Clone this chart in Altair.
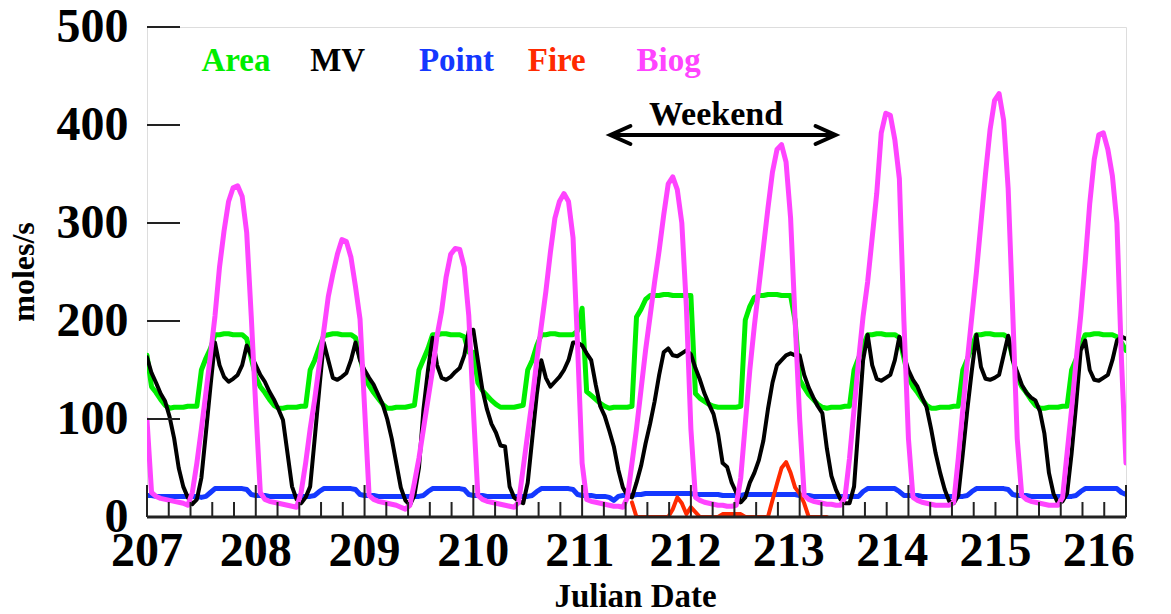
import altair as alt
import pandas as pd

FIRST_DAY = 207
LAST_DAY = 216

# Hourly emissions (moles/s), one row per Julian day (hours 0-23), last entry is day 216.0
area = [
    165, 133, 127, 120, 114, 111, 112, 112, 112, 113, 113, 113, 150, 162, 172, 186, 186, 187, 187, 186, 186, 186, 182, 162,
    143, 133, 127, 120, 114, 111, 111, 112, 112, 112, 113, 113, 150, 160, 173, 185, 186, 187, 187, 186, 186, 186, 183, 163,
    143, 134, 127, 121, 115, 111, 111, 112, 112, 112, 113, 114, 150, 161, 172, 186, 186, 187, 187, 186, 186, 186, 184, 168,
    168, 137, 129, 124, 119, 115, 112, 112, 112, 112, 113, 114, 150, 160, 175, 186, 186, 187, 187, 186, 186, 186, 186, 190,
    213, 128, 124, 120, 116, 113, 111, 112, 112, 112, 112, 113, 204, 212, 222, 226, 226, 226, 227, 227, 226, 226, 226, 226,
    226, 126, 121, 118, 115, 113, 112, 112, 112, 112, 112, 113, 201, 215, 224, 226, 226, 227, 227, 227, 226, 226, 226, 200,
    140, 132, 125, 120, 115, 112, 111, 112, 112, 112, 113, 113, 150, 162, 175, 186, 186, 187, 187, 186, 186, 186, 183, 162,
    143, 133, 127, 120, 114, 111, 111, 112, 112, 112, 113, 113, 150, 161, 174, 186, 186, 187, 187, 186, 186, 186, 183, 162,
    143, 133, 127, 120, 114, 111, 111, 112, 112, 112, 113, 113, 150, 161, 174, 186, 186, 187, 187, 186, 186, 186, 184, 178,
    170,
]

mv = [
    163, 147, 137, 126, 118, 102, 80, 50, 31, 20, 13, 18, 40, 86, 133, 178, 155, 143, 138, 141, 145, 155, 175, 165,
    155, 145, 138, 128, 120, 110, 99, 65, 31, 18, 14, 20, 31, 80, 130, 178, 160, 142, 140, 143, 147, 160, 178, 160,
    150, 142, 135, 125, 115, 100, 80, 55, 30, 17, 12, 22, 50, 110, 150, 183, 155, 142, 140, 143, 148, 152, 165, 190,
    191, 160, 130, 110, 95, 86, 73, 72, 31, 20, 16, 14, 35, 80, 125, 160, 142, 133, 138, 143, 150, 160, 178, 178,
    175, 167, 160, 135, 113, 103, 88, 72, 48, 30, 22, 20, 35, 52, 75, 95, 118, 145, 168, 172, 165, 164, 167, 170,
    166, 152, 140, 126, 115, 105, 85, 55, 51, 35, 25, 15, 20, 35, 45, 58, 78, 110, 137, 155, 160, 165, 167, 165,
    165, 145, 132, 122, 113, 106, 70, 42, 28, 18, 14, 14, 31, 95, 160, 186, 155, 141, 139, 142, 145, 160, 184, 165,
    150, 140, 133, 122, 112, 90, 65, 45, 28, 16, 14, 22, 65, 110, 150, 186, 153, 141, 140, 142, 145, 165, 185, 160,
    148, 135, 127, 122, 119, 108, 85, 45, 24, 14, 16, 24, 65, 115, 170, 180, 150, 140, 139, 142, 145, 160, 180, 184,
    182,
]

point = [
    22, 22, 21, 21, 21, 21, 21, 21, 21, 21, 21, 21, 20, 21, 25, 29, 29, 29, 29, 29, 29, 29, 28, 23,
    22, 22, 22, 21, 21, 21, 21, 21, 21, 21, 21, 21, 21, 22, 26, 29, 29, 29, 29, 29, 29, 29, 28, 23,
    22, 22, 22, 21, 21, 21, 21, 21, 21, 21, 21, 21, 21, 22, 26, 29, 29, 29, 29, 29, 29, 29, 28, 23,
    22, 22, 22, 21, 21, 21, 21, 21, 21, 21, 21, 21, 21, 22, 26, 29, 29, 29, 29, 29, 29, 29, 28, 23,
    22, 22, 22, 21, 21, 21, 20, 17, 21, 22, 22, 22, 23, 23, 24, 24, 24, 24, 24, 24, 24, 24, 24, 24,
    24, 23, 23, 23, 23, 23, 23, 22, 22, 22, 22, 22, 23, 23, 23, 23, 23, 23, 23, 23, 23, 23, 23, 23,
    22, 22, 22, 21, 21, 21, 21, 21, 21, 21, 21, 21, 21, 21, 26, 29, 29, 29, 29, 29, 29, 29, 26, 22,
    22, 22, 22, 21, 21, 21, 21, 21, 21, 21, 21, 21, 21, 22, 26, 29, 29, 29, 29, 29, 29, 29, 28, 23,
    22, 22, 22, 21, 21, 21, 21, 21, 21, 21, 21, 21, 21, 22, 26, 29, 29, 29, 29, 29, 29, 29, 29, 25,
    23,
]

N = None
fire = [
    N, N, N, N, N, N, N, N, N, N, N, N, N, N, N, N, N, N, N, N, N, N, N, N,
    N, N, N, N, N, N, N, N, N, N, N, N, N, N, N, N, N, N, N, N, N, N, N, N,
    N, N, N, N, N, N, N, N, N, N, N, N, N, N, N, N, N, N, N, N, N, N, N, N,
    N, N, N, N, N, N, N, N, N, N, N, N, N, N, N, N, N, N, N, N, N, N, N, N,
    N, N, N, N, N, N, N, N, N, N, N, 15, 0, 0, 0, 0, 0, 0, 0, 0, 8, 20, 14, 3,
    10, 5, 0, 0, 0, 0, 0, 3, 3, 3, 3, 3, 0, 0, 0, 0, 0, 0, 17, 34, 50, 56, 45, 30,
    24, 14, 0, 0, 0, 0, 0, N, N, N, N, N, N, N, N, N, N, N, N, N, N, N, N, N,
    N, N, N, N, N, N, N, N, N, N, N, N, N, N, N, N, N, N, N, N, N, N, N, N,
    N, N, N, N, N, N, N, N, N, N, N, N, N, N, N, N, N, N, N, N, N, N, N, N,
    N,
]

biog = [
    99, 25, 21, 19, 18, 17, 16, 15, 14, 12, 25, 55, 90, 127, 165, 205, 255, 292, 322, 336, 338, 327, 290, 205,
    112, 25, 18, 16, 15, 14, 13, 12, 11, 10, 25, 55, 90, 120, 155, 190, 225, 248, 268, 283, 281, 265, 235, 202,
    112, 22, 18, 16, 15, 14, 13, 12, 10, 8, 12, 35, 60, 90, 120, 150, 185, 210, 245, 268, 274, 273, 255, 205,
    110, 22, 18, 16, 15, 14, 13, 12, 11, 10, 15, 50, 85, 120, 160, 195, 230, 270, 305, 322, 330, 322, 285, 175,
    55, 18, 16, 15, 14, 13, 12, 11, 11, 10, 20, 55, 90, 130, 170, 205, 240, 272, 308, 340, 347, 334, 300, 215,
    90, 20, 17, 15, 14, 13, 12, 12, 11, 11, 12, 40, 95, 150, 195, 235, 275, 315, 352, 375, 380, 362, 305, 200,
    100, 22, 18, 16, 15, 14, 13, 13, 12, 12, 20, 60, 110, 160, 205, 240, 285, 330, 392, 412, 410, 385, 345, 200,
    80, 20, 17, 15, 14, 13, 12, 12, 12, 12, 15, 60, 110, 160, 205, 250, 300, 350, 395, 425, 432, 405, 335, 210,
    80, 22, 18, 16, 15, 14, 13, 12, 12, 12, 20, 65, 110, 160, 205, 260, 320, 365, 390, 392, 375, 348, 300, 160,
    55,
]

series_names = ["Area", "MV", "Point", "Fire", "Biog"]
series_colors = ["#00ee00", "#000000", "#1438ff", "#ff2a00", "#ff44ff"]
series_widths = [5, 4, 5, 4, 5]
series_values = [area, mv, point, fire, biog]
draw_order = ["Area", "Point", "MV", "Fire", "Biog"]

y_ticks = [0, 100, 200, 300, 400, 500]
day_ticks = list(range(FIRST_DAY, LAST_DAY + 1))
minor_ticks = [FIRST_DAY + k / 5 for k in range((LAST_DAY - FIRST_DAY) * 5 + 1) if k % 5]
weekend_span = [211.26, 213.33]

W, H = 979, 490
FONT = "Liberation Serif"
FRAME = "#222222"

x_scale = alt.Scale(domain=[FIRST_DAY, LAST_DAY], nice=False, zero=False)
y_scale = alt.Scale(domain=[0, 500], nice=False, zero=True)
y_axis = alt.Axis(values=y_ticks, ticks=False, tickSize=0, domain=False, grid=False, title=None,
                  labelFont=FONT, labelFontSize=48, labelFontWeight="bold", labelColor="black",
                  labelPadding=19, labelFlush=False, labelOverlap=False, labelBaseline="middle")

layers = []
for name in draw_order:
    i = series_names.index(name)
    vals = series_values[i]
    rows = [{"day": FIRST_DAY + h / 24, "value": v} for h, v in enumerate(vals) if v is not None]
    layers.append(
        alt.Chart(pd.DataFrame(rows)).mark_line(
            color=series_colors[i], strokeWidth=series_widths[i], clip=True,
            strokeJoin="round", strokeCap="round"
        ).encode(
            x=alt.X("day:Q", scale=x_scale, axis=None),
            y=alt.Y("value:Q", scale=y_scale, axis=y_axis),
        )
    )

# inward ticks on the value axis
ytick_layer = alt.Chart(pd.DataFrame({"value": y_ticks})).mark_rule(color=FRAME, strokeWidth=2).encode(
    y=alt.Y("value:Q", scale=y_scale, axis=y_axis), x=alt.value(0), x2=alt.value(33)
)
# inward ticks on the date axis
major_layer = alt.Chart(pd.DataFrame({"day": day_ticks})).mark_rule(color=FRAME, strokeWidth=2).encode(
    x=alt.X("day:Q", scale=x_scale, axis=None), y=alt.value(H), y2=alt.value(H - 32)
)
minor_layer = alt.Chart(pd.DataFrame({"day": minor_ticks})).mark_rule(color=FRAME, strokeWidth=2).encode(
    x=alt.X("day:Q", scale=x_scale, axis=None), y=alt.value(H), y2=alt.value(H - 15)
)
bottom_edge = alt.Chart(pd.DataFrame({"day": [FIRST_DAY]})).mark_rule(color=FRAME, strokeWidth=3).encode(
    x=alt.value(0), x2=alt.value(W), y=alt.value(H)
)

# date labels (the later ones sit slightly left of their ticks)
xlabel_layer = alt.Chart(pd.DataFrame({"day": day_ticks})).transform_calculate(
    pos="datum.day - max(0, datum.day - 210.6) * 0.05 + (datum.day > 211 ? 0.02 : 0)"
).mark_text(font=FONT, fontSize=48, fontWeight="bold", color="black", baseline="alphabetic", align="center").encode(
    x=alt.X("pos:Q", scale=x_scale, axis=None), y=alt.value(H + 49), text=alt.Text("day:Q", format="d")
)

# series key written across the top of the plot
key_df = pd.DataFrame({"name": series_names, "slot": list(range(len(series_names)))})
key_layer = alt.Chart(key_df).transform_calculate(
    kx=f"{FIRST_DAY} + 0.5 + datum.slot"
).mark_text(font=FONT, fontSize=33, fontWeight="bold", align="left", baseline="alphabetic").encode(
    x=alt.X("kx:Q", scale=x_scale, axis=None), y=alt.value(44), text="name:N",
    color=alt.Color("name:N", scale=alt.Scale(domain=series_names, range=series_colors), legend=None),
)

# weekend arrow
wk = pd.DataFrame({"start": [weekend_span[0]], "end": [weekend_span[1]]})
wk_shaft = alt.Chart(wk).mark_rule(color="black", strokeWidth=4).encode(
    x=alt.X("start:Q", scale=x_scale, axis=None), x2="end:Q", y=alt.value(108)
)
wk_left = alt.Chart(wk).mark_point(shape="M2,-0.9L0,0L2,0.9", size=400, filled=False, color="black",
                                   strokeWidth=4, opacity=1, strokeCap="round").encode(
    x=alt.X("start:Q", scale=x_scale, axis=None), y=alt.value(108)
)
wk_right = alt.Chart(wk).mark_point(shape="M-2,-0.9L0,0L-2,0.9", size=400, filled=False, color="black",
                                    strokeWidth=4, opacity=1, strokeCap="round").encode(
    x=alt.X("end:Q", scale=x_scale, axis=None), y=alt.value(108)
)
wk_text = alt.Chart(wk).transform_calculate(mid="(datum.start + datum.end) / 2").mark_text(
    text="Weekend", font=FONT, fontSize=34, fontWeight="bold", color="black", baseline="alphabetic",
    align="center", dx=-7
).encode(x=alt.X("mid:Q", scale=x_scale, axis=None), y=alt.value(98))

# axis titles
ytitle = alt.Chart(pd.DataFrame({"t": ["moles/s"]})).mark_text(
    font=FONT, fontSize=32, fontWeight="bold", color="black", angle=270, align="center", baseline="middle"
).encode(x=alt.value(-123), y=alt.value(245), text="t:N")
xtitle = alt.Chart(pd.DataFrame({"t": ["Julian Date"]})).mark_text(
    font=FONT, fontSize=33, fontWeight="bold", color="black", align="center", baseline="alphabetic"
).encode(x=alt.value(W / 2 - 1), y=alt.value(H + 90), text="t:N")

chart = alt.layer(
    *layers, ytick_layer, major_layer, minor_layer, bottom_edge, xlabel_layer,
    key_layer, wk_shaft, wk_left, wk_right, wk_text, ytitle, xtitle
).properties(
    width=W, height=H,
    padding={"left": 147, "top": 27, "right": 45, "bottom": 97},
    autosize=alt.AutoSizeParams(type="none"),
).configure_view(stroke=FRAME, strokeWidth=2).configure(background="white")

chart.save("out.html", embed_options={"renderer": "svg", "actions": False})
